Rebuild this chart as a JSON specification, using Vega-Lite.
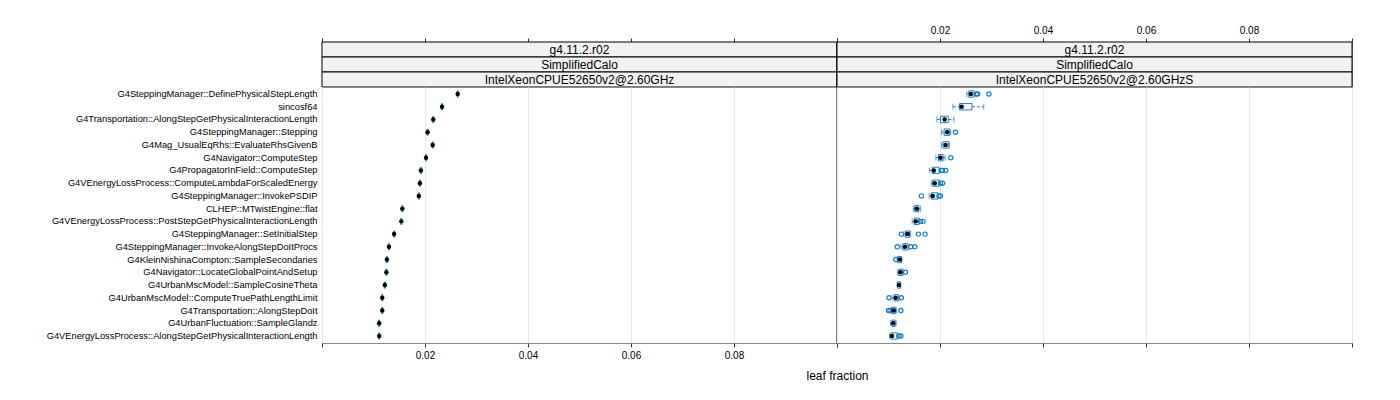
{
  "$schema": "https://vega.github.io/schema/vega-lite/v6.json",
  "padding": {"left": 45, "top": 24, "right": 10, "bottom": 10},
  "bounds": "flush",
  "spacing": 0,
  "columns": 2,
  "config": {
    "font": "Liberation Sans",
    "view": {"stroke": "#888888", "strokeWidth": 1},
    "axis": {"domain": false, "tickColor": "#333333", "tickSize": 4, "labelFontSize": 10, "labelColor": "black", "gridColor": "#e8e8e8", "titleFontWeight": "normal", "titleColor": "black"}
  },
  "datasets": {
    "strips": [
      {"panel": "L", "row": 1, "label": "g4.11.2.r02"},
      {"panel": "L", "row": 2, "label": "SimplifiedCalo"},
      {"panel": "L", "row": 3, "label": "IntelXeonCPUE52650v2@2.60GHz"},
      {"panel": "R", "row": 1, "label": "g4.11.2.r02"},
      {"panel": "R", "row": 2, "label": "SimplifiedCalo"},
      {"panel": "R", "row": 3, "label": "IntelXeonCPUE52650v2@2.60GHzS"}
    ],
    "stats": [
      {"panel": "L", "fn": "G4SteppingManager::DefinePhysicalStepLength", "lo": 0.02625, "q1": 0.02625, "med": 0.02635, "q3": 0.02645, "hi": 0.02645},
      {"panel": "L", "fn": "sincosf64", "lo": 0.0232, "q1": 0.0232, "med": 0.0233, "q3": 0.0234, "hi": 0.0234},
      {"panel": "L", "fn": "G4Transportation::AlongStepGetPhysicalInteractionLength", "lo": 0.0215, "q1": 0.0215, "med": 0.0216, "q3": 0.0217, "hi": 0.0217},
      {"panel": "L", "fn": "G4SteppingManager::Stepping", "lo": 0.0204, "q1": 0.0204, "med": 0.0205, "q3": 0.0206, "hi": 0.0206},
      {"panel": "L", "fn": "G4Mag_UsualEqRhs::EvaluateRhsGivenB", "lo": 0.0214, "q1": 0.0214, "med": 0.0215, "q3": 0.0216, "hi": 0.0216},
      {"panel": "L", "fn": "G4Navigator::ComputeStep", "lo": 0.0201, "q1": 0.0201, "med": 0.0202, "q3": 0.0203, "hi": 0.0203},
      {"panel": "L", "fn": "G4PropagatorInField::ComputeStep", "lo": 0.0191, "q1": 0.0191, "med": 0.0192, "q3": 0.0193, "hi": 0.0193},
      {"panel": "L", "fn": "G4VEnergyLossProcess::ComputeLambdaForScaledEnergy", "lo": 0.0189, "q1": 0.0189, "med": 0.019, "q3": 0.0191, "hi": 0.0191},
      {"panel": "L", "fn": "G4SteppingManager::InvokePSDIP", "lo": 0.0187, "q1": 0.0187, "med": 0.0188, "q3": 0.0189, "hi": 0.0189},
      {"panel": "L", "fn": "CLHEP::MTwistEngine::flat", "lo": 0.0155, "q1": 0.0155, "med": 0.0156, "q3": 0.0157, "hi": 0.0157},
      {"panel": "L", "fn": "G4VEnergyLossProcess::PostStepGetPhysicalInteractionLength", "lo": 0.0153, "q1": 0.0153, "med": 0.0154, "q3": 0.0155, "hi": 0.0155},
      {"panel": "L", "fn": "G4SteppingManager::SetInitialStep", "lo": 0.0139, "q1": 0.0139, "med": 0.014, "q3": 0.0141, "hi": 0.0141},
      {"panel": "L", "fn": "G4SteppingManager::InvokeAlongStepDoItProcs", "lo": 0.0129, "q1": 0.0129, "med": 0.013, "q3": 0.0131, "hi": 0.0131},
      {"panel": "L", "fn": "G4KleinNishinaCompton::SampleSecondaries", "lo": 0.0125, "q1": 0.0125, "med": 0.0126, "q3": 0.0127, "hi": 0.0127},
      {"panel": "L", "fn": "G4Navigator::LocateGlobalPointAndSetup", "lo": 0.0124, "q1": 0.0124, "med": 0.0125, "q3": 0.0126, "hi": 0.0126},
      {"panel": "L", "fn": "G4UrbanMscModel::SampleCosineTheta", "lo": 0.0121, "q1": 0.0121, "med": 0.0122, "q3": 0.0123, "hi": 0.0123},
      {"panel": "L", "fn": "G4UrbanMscModel::ComputeTruePathLengthLimit", "lo": 0.0116, "q1": 0.0116, "med": 0.0117, "q3": 0.0118, "hi": 0.0118},
      {"panel": "L", "fn": "G4Transportation::AlongStepDoIt", "lo": 0.0116, "q1": 0.0116, "med": 0.0117, "q3": 0.0118, "hi": 0.0118},
      {"panel": "L", "fn": "G4UrbanFluctuation::SampleGlandz", "lo": 0.011, "q1": 0.011, "med": 0.0111, "q3": 0.0112, "hi": 0.0112},
      {"panel": "L", "fn": "G4VEnergyLossProcess::AlongStepGetPhysicalInteractionLength", "lo": 0.011, "q1": 0.011, "med": 0.0111, "q3": 0.0112, "hi": 0.0112},
      {"panel": "R", "fn": "G4SteppingManager::DefinePhysicalStepLength", "lo": 0.0252, "q1": 0.0256, "med": 0.026, "q3": 0.0266, "hi": 0.0268},
      {"panel": "R", "fn": "sincosf64", "lo": 0.0225, "q1": 0.0238, "med": 0.0242, "q3": 0.0262, "hi": 0.0285},
      {"panel": "R", "fn": "G4Transportation::AlongStepGetPhysicalInteractionLength", "lo": 0.0194, "q1": 0.0201, "med": 0.0209, "q3": 0.0216, "hi": 0.0227},
      {"panel": "R", "fn": "G4SteppingManager::Stepping", "lo": 0.0203, "q1": 0.0208, "med": 0.0214, "q3": 0.0219, "hi": 0.0221},
      {"panel": "R", "fn": "G4Mag_UsualEqRhs::EvaluateRhsGivenB", "lo": 0.0203, "q1": 0.0206, "med": 0.0211, "q3": 0.0217, "hi": 0.0218},
      {"panel": "R", "fn": "G4Navigator::ComputeStep", "lo": 0.0192, "q1": 0.0197, "med": 0.0201, "q3": 0.0206, "hi": 0.021},
      {"panel": "R", "fn": "G4PropagatorInField::ComputeStep", "lo": 0.018, "q1": 0.0185, "med": 0.0188, "q3": 0.0198, "hi": 0.02},
      {"panel": "R", "fn": "G4VEnergyLossProcess::ComputeLambdaForScaledEnergy", "lo": 0.0183, "q1": 0.0186, "med": 0.019, "q3": 0.0198, "hi": 0.0199},
      {"panel": "R", "fn": "G4SteppingManager::InvokePSDIP", "lo": 0.0179, "q1": 0.0183, "med": 0.0186, "q3": 0.0196, "hi": 0.0197},
      {"panel": "R", "fn": "CLHEP::MTwistEngine::flat", "lo": 0.0148, "q1": 0.0151, "med": 0.0155, "q3": 0.0159, "hi": 0.0162},
      {"panel": "R", "fn": "G4VEnergyLossProcess::PostStepGetPhysicalInteractionLength", "lo": 0.0146, "q1": 0.015, "med": 0.0153, "q3": 0.0159, "hi": 0.016},
      {"panel": "R", "fn": "G4SteppingManager::SetInitialStep", "lo": 0.013, "q1": 0.0133, "med": 0.0137, "q3": 0.0141, "hi": 0.0143},
      {"panel": "R", "fn": "G4SteppingManager::InvokeAlongStepDoItProcs", "lo": 0.0124, "q1": 0.0128, "med": 0.0132, "q3": 0.0138, "hi": 0.014},
      {"panel": "R", "fn": "G4KleinNishinaCompton::SampleSecondaries", "lo": 0.0117, "q1": 0.0118, "med": 0.0122, "q3": 0.0125, "hi": 0.0126},
      {"panel": "R", "fn": "G4Navigator::LocateGlobalPointAndSetup", "lo": 0.0117, "q1": 0.012, "med": 0.0123, "q3": 0.0128, "hi": 0.0129},
      {"panel": "R", "fn": "G4UrbanMscModel::SampleCosineTheta", "lo": 0.0117, "q1": 0.0118, "med": 0.012, "q3": 0.0123, "hi": 0.0124},
      {"panel": "R", "fn": "G4UrbanMscModel::ComputeTruePathLengthLimit", "lo": 0.0107, "q1": 0.0111, "med": 0.0114, "q3": 0.0119, "hi": 0.012},
      {"panel": "R", "fn": "G4Transportation::AlongStepDoIt", "lo": 0.0105, "q1": 0.0106, "med": 0.011, "q3": 0.0114, "hi": 0.0116},
      {"panel": "R", "fn": "G4UrbanFluctuation::SampleGlandz", "lo": 0.0104, "q1": 0.0107, "med": 0.0109, "q3": 0.0113, "hi": 0.0115},
      {"panel": "R", "fn": "G4VEnergyLossProcess::AlongStepGetPhysicalInteractionLength", "lo": 0.0102, "q1": 0.0105, "med": 0.0107, "q3": 0.0117, "hi": 0.0118}
    ],
    "outliers": [
      {"fn": "G4SteppingManager::DefinePhysicalStepLength", "v": 0.0271},
      {"fn": "G4SteppingManager::DefinePhysicalStepLength", "v": 0.0273},
      {"fn": "G4SteppingManager::DefinePhysicalStepLength", "v": 0.0295},
      {"fn": "G4SteppingManager::Stepping", "v": 0.023},
      {"fn": "G4Navigator::ComputeStep", "v": 0.0221},
      {"fn": "G4PropagatorInField::ComputeStep", "v": 0.0203},
      {"fn": "G4PropagatorInField::ComputeStep", "v": 0.0205},
      {"fn": "G4PropagatorInField::ComputeStep", "v": 0.0211},
      {"fn": "G4VEnergyLossProcess::ComputeLambdaForScaledEnergy", "v": 0.0201},
      {"fn": "G4VEnergyLossProcess::ComputeLambdaForScaledEnergy", "v": 0.0205},
      {"fn": "G4SteppingManager::InvokePSDIP", "v": 0.0164},
      {"fn": "G4SteppingManager::InvokePSDIP", "v": 0.0198},
      {"fn": "G4SteppingManager::InvokePSDIP", "v": 0.0201},
      {"fn": "G4VEnergyLossProcess::PostStepGetPhysicalInteractionLength", "v": 0.0162},
      {"fn": "G4VEnergyLossProcess::PostStepGetPhysicalInteractionLength", "v": 0.0167},
      {"fn": "G4SteppingManager::SetInitialStep", "v": 0.0125},
      {"fn": "G4SteppingManager::SetInitialStep", "v": 0.0158},
      {"fn": "G4SteppingManager::SetInitialStep", "v": 0.0171},
      {"fn": "G4SteppingManager::InvokeAlongStepDoItProcs", "v": 0.0117},
      {"fn": "G4SteppingManager::InvokeAlongStepDoItProcs", "v": 0.0143},
      {"fn": "G4SteppingManager::InvokeAlongStepDoItProcs", "v": 0.0151},
      {"fn": "G4KleinNishinaCompton::SampleSecondaries", "v": 0.0114},
      {"fn": "G4Navigator::LocateGlobalPointAndSetup", "v": 0.0133},
      {"fn": "G4UrbanMscModel::ComputeTruePathLengthLimit", "v": 0.0101},
      {"fn": "G4UrbanMscModel::ComputeTruePathLengthLimit", "v": 0.0125},
      {"fn": "G4Transportation::AlongStepDoIt", "v": 0.01},
      {"fn": "G4Transportation::AlongStepDoIt", "v": 0.0103},
      {"fn": "G4Transportation::AlongStepDoIt", "v": 0.0124},
      {"fn": "G4VEnergyLossProcess::AlongStepGetPhysicalInteractionLength", "v": 0.012},
      {"fn": "G4VEnergyLossProcess::AlongStepGetPhysicalInteractionLength", "v": 0.0124}
    ]
  },
  "concat": [
    {
      "width": 515,
      "height": 45,
      "data": {"name": "strips"},
      "transform": [{"filter": "datum.panel === 'L'"}],
      "layer": [
        {
          "mark": {"type": "rect", "fill": "#f2f2f2", "stroke": "black", "strokeWidth": 1},
          "encoding": {
            "y": {"field": "row", "type": "ordinal", "axis": null, "scale": {"paddingInner": 0, "paddingOuter": 0}},
            "x": {"datum": 0, "type": "quantitative", "scale": {"domain": [0, 0.1], "nice": false, "zero": false}, "axis": {"orient": "top", "values": [0, 0.02, 0.04, 0.06, 0.08, 0.1], "labels": false, "grid": false, "title": null}},
            "x2": {"datum": 0.1}
          }
        },
        {
          "mark": {"type": "text", "fontSize": 12, "color": "black", "baseline": "middle"},
          "encoding": {
            "y": {"field": "row", "type": "ordinal"},
            "x": {"datum": 0.05, "type": "quantitative"},
            "text": {"field": "label"}
          }
        },
        {
          "data": {"values": [{}]},
          "mark": {"type": "rule", "color": "black", "strokeWidth": 1},
          "encoding": {"x": {"datum": 0.1, "type": "quantitative"}}
        }
      ]
    },
    {
      "width": 515,
      "height": 45,
      "data": {"name": "strips"},
      "transform": [{"filter": "datum.panel === 'R'"}],
      "layer": [
        {
          "mark": {"type": "rect", "fill": "#f2f2f2", "stroke": "black", "strokeWidth": 1},
          "encoding": {
            "y": {"field": "row", "type": "ordinal", "axis": null, "scale": {"paddingInner": 0, "paddingOuter": 0}},
            "x": {"datum": 0, "type": "quantitative", "scale": {"domain": [0, 0.1], "nice": false, "zero": false}, "axis": {"orient": "top", "values": [0, 0.02, 0.04, 0.06, 0.08, 0.1], "format": ".2f", "labelExpr": "datum.value > 0.001 && datum.value < 0.099 ? datum.label : ''", "labelPadding": 3, "grid": false, "title": null}},
            "x2": {"datum": 0.1}
          }
        },
        {
          "mark": {"type": "text", "fontSize": 12, "color": "black", "baseline": "middle"},
          "encoding": {
            "y": {"field": "row", "type": "ordinal"},
            "x": {"datum": 0.05, "type": "quantitative"},
            "text": {"field": "label"}
          }
        }
      ]
    },
    {
      "width": 515,
      "height": 256,
      "layer": [
        {
          "data": {"name": "stats"},
          "transform": [{"filter": "datum.panel === 'L'"}],
          "mark": {"type": "rule", "color": "#1a80c8", "strokeWidth": 1, "strokeDash": [3, 2]},
          "encoding": {
            "y": {"field": "fn", "type": "nominal", "scale": {"domain": ["G4SteppingManager::DefinePhysicalStepLength", "sincosf64", "G4Transportation::AlongStepGetPhysicalInteractionLength", "G4SteppingManager::Stepping", "G4Mag_UsualEqRhs::EvaluateRhsGivenB", "G4Navigator::ComputeStep", "G4PropagatorInField::ComputeStep", "G4VEnergyLossProcess::ComputeLambdaForScaledEnergy", "G4SteppingManager::InvokePSDIP", "CLHEP::MTwistEngine::flat", "G4VEnergyLossProcess::PostStepGetPhysicalInteractionLength", "G4SteppingManager::SetInitialStep", "G4SteppingManager::InvokeAlongStepDoItProcs", "G4KleinNishinaCompton::SampleSecondaries", "G4Navigator::LocateGlobalPointAndSetup", "G4UrbanMscModel::SampleCosineTheta", "G4UrbanMscModel::ComputeTruePathLengthLimit", "G4Transportation::AlongStepDoIt", "G4UrbanFluctuation::SampleGlandz", "G4VEnergyLossProcess::AlongStepGetPhysicalInteractionLength"], "paddingInner": 0, "paddingOuter": 0.05}, "axis": {"title": null, "ticks": false, "domain": false, "labelFontSize": 9.3, "labelPadding": 5, "labelColor": "black", "labelLimit": 400}},
            "x": {"field": "lo", "type": "quantitative", "scale": {"domain": [0, 0.1], "nice": false, "zero": false}, "axis": {"orient": "bottom", "values": [0, 0.02, 0.04, 0.06, 0.08, 0.1], "format": ".2f", "labelExpr": "datum.value > 0.001 && datum.value < 0.099 ? datum.label : ''", "labelPadding": 3, "grid": true, "title": "leaf fraction", "titleX": 515, "titleFontSize": 12, "titlePadding": 10}},
            "x2": {"field": "q1"}
          }
        },
        {
          "data": {"name": "stats"},
          "transform": [{"filter": "datum.panel === 'L'"}],
          "mark": {"type": "rule", "color": "#1a80c8", "strokeWidth": 1, "strokeDash": [3, 2]},
          "encoding": {"y": {"field": "fn", "type": "nominal"}, "x": {"field": "q3", "type": "quantitative"}, "x2": {"field": "hi"}}
        },
        {
          "data": {"name": "stats"},
          "transform": [{"filter": "datum.panel === 'L'"}],
          "mark": {"type": "bar", "fill": "transparent", "stroke": "#1a80c8", "strokeWidth": 1, "height": {"band": 0.5}},
          "encoding": {"y": {"field": "fn", "type": "nominal"}, "x": {"field": "q1", "type": "quantitative"}, "x2": {"field": "q3"}}
        },
        {
          "data": {"name": "stats"},
          "transform": [{"filter": "datum.panel === 'L'"}],
          "mark": {"type": "point", "filled": true, "color": "black", "size": 20, "opacity": 1},
          "encoding": {"y": {"field": "fn", "type": "nominal"}, "x": {"field": "med", "type": "quantitative"}}
        },
        {
          "data": {"values": [{}]},
          "mark": {"type": "rule", "color": "black", "strokeWidth": 1},
          "encoding": {"x": {"datum": 0.1, "type": "quantitative"}}
        }
      ]
    },
    {
      "width": 515,
      "height": 256,
      "layer": [
        {
          "data": {"name": "stats"},
          "transform": [{"filter": "datum.panel === 'R'"}],
          "mark": {"type": "rule", "color": "#1a80c8", "strokeWidth": 1, "strokeDash": [3, 2]},
          "encoding": {
            "y": {"field": "fn", "type": "nominal", "scale": {"domain": ["G4SteppingManager::DefinePhysicalStepLength", "sincosf64", "G4Transportation::AlongStepGetPhysicalInteractionLength", "G4SteppingManager::Stepping", "G4Mag_UsualEqRhs::EvaluateRhsGivenB", "G4Navigator::ComputeStep", "G4PropagatorInField::ComputeStep", "G4VEnergyLossProcess::ComputeLambdaForScaledEnergy", "G4SteppingManager::InvokePSDIP", "CLHEP::MTwistEngine::flat", "G4VEnergyLossProcess::PostStepGetPhysicalInteractionLength", "G4SteppingManager::SetInitialStep", "G4SteppingManager::InvokeAlongStepDoItProcs", "G4KleinNishinaCompton::SampleSecondaries", "G4Navigator::LocateGlobalPointAndSetup", "G4UrbanMscModel::SampleCosineTheta", "G4UrbanMscModel::ComputeTruePathLengthLimit", "G4Transportation::AlongStepDoIt", "G4UrbanFluctuation::SampleGlandz", "G4VEnergyLossProcess::AlongStepGetPhysicalInteractionLength"], "paddingInner": 0, "paddingOuter": 0.05}, "axis": null},
            "x": {"field": "lo", "type": "quantitative", "scale": {"domain": [0, 0.1], "nice": false, "zero": false}, "axis": {"orient": "bottom", "values": [0, 0.02, 0.04, 0.06, 0.08, 0.1], "labels": false, "grid": true, "title": null}},
            "x2": {"field": "q1"}
          }
        },
        {
          "data": {"name": "stats"},
          "transform": [{"filter": "datum.panel === 'R'"}],
          "mark": {"type": "rule", "color": "#1a80c8", "strokeWidth": 1, "strokeDash": [3, 2]},
          "encoding": {"y": {"field": "fn", "type": "nominal"}, "x": {"field": "q3", "type": "quantitative"}, "x2": {"field": "hi"}}
        },
        {
          "data": {"name": "stats"},
          "transform": [{"filter": "datum.panel === 'R'"}],
          "mark": {"type": "tick", "color": "#1a80c8", "thickness": 1, "size": 6, "orient": "vertical"},
          "encoding": {"y": {"field": "fn", "type": "nominal"}, "x": {"field": "lo", "type": "quantitative"}}
        },
        {
          "data": {"name": "stats"},
          "transform": [{"filter": "datum.panel === 'R'"}],
          "mark": {"type": "tick", "color": "#1a80c8", "thickness": 1, "size": 6, "orient": "vertical"},
          "encoding": {"y": {"field": "fn", "type": "nominal"}, "x": {"field": "hi", "type": "quantitative"}}
        },
        {
          "data": {"name": "stats"},
          "transform": [{"filter": "datum.panel === 'R'"}],
          "mark": {"type": "bar", "fill": "transparent", "stroke": "#1a80c8", "strokeWidth": 1, "height": {"band": 0.5}},
          "encoding": {"y": {"field": "fn", "type": "nominal"}, "x": {"field": "q1", "type": "quantitative"}, "x2": {"field": "q3"}}
        },
        {
          "data": {"name": "outliers"},
          "mark": {"type": "point", "filled": false, "color": "#1a80c8", "size": 18, "strokeWidth": 1.2, "opacity": 1},
          "encoding": {"y": {"field": "fn", "type": "nominal"}, "x": {"field": "v", "type": "quantitative"}}
        },
        {
          "data": {"name": "stats"},
          "transform": [{"filter": "datum.panel === 'R'"}],
          "mark": {"type": "point", "filled": true, "color": "black", "size": 20, "opacity": 1},
          "encoding": {"y": {"field": "fn", "type": "nominal"}, "x": {"field": "med", "type": "quantitative"}}
        }
      ]
    }
  ]
}
